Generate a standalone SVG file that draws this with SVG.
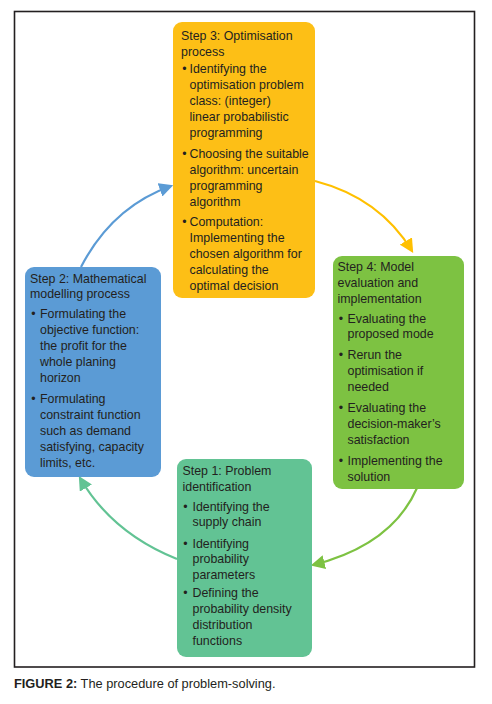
<svg xmlns="http://www.w3.org/2000/svg" width="492" height="704" viewBox="0 0 492 704">
<defs>
<style>
text{font-family:"Liberation Sans",Arial,sans-serif;font-size:12.4px;fill:#231f20}
.cap{font-size:12.8px}
.b{font-weight:bold}
.conn{fill:none;stroke-width:2.2}
</style>
<marker id="mBlue" viewBox="0 0 12 12" refX="10" refY="6" markerWidth="14" markerHeight="14" markerUnits="userSpaceOnUse" orient="auto"><path d="M0,0 L12,6 L0,12 Z" fill="#5b9bd5"/></marker>
<marker id="mOrange" viewBox="0 0 12 12" refX="10" refY="6" markerWidth="14" markerHeight="14" markerUnits="userSpaceOnUse" orient="auto"><path d="M0,0 L12,6 L0,12 Z" fill="#ffc000"/></marker>
<marker id="mGreen" viewBox="0 0 12 12" refX="10" refY="6" markerWidth="14" markerHeight="14" markerUnits="userSpaceOnUse" orient="auto"><path d="M0,0 L12,6 L0,12 Z" fill="#7dc242"/></marker>
<marker id="mTeal" viewBox="0 0 12 12" refX="10" refY="6" markerWidth="14" markerHeight="14" markerUnits="userSpaceOnUse" orient="auto"><path d="M0,0 L12,6 L0,12 Z" fill="#62c394"/></marker>
</defs>
<rect x="0" y="0" width="492" height="704" fill="#ffffff"/>
<rect id="frame" x="14.5" y="11.5" width="460" height="655.5" fill="none" stroke="#231f20" stroke-width="1.6"/>

<g id="connectors">
<path class="conn" stroke="#5b9bd5" d="M81,267 Q112,207 171,186" marker-end="url(#mBlue)"/>
<path class="conn" stroke="#ffc000" d="M315,181 Q380,198 412,251" marker-end="url(#mOrange)"/>
<path class="conn" stroke="#7dc242" d="M417,488 Q392,545 313,565" marker-end="url(#mGreen)"/>
<path class="conn" stroke="#62c394" d="M177,559 Q112,533 80,478" marker-end="url(#mTeal)"/>
</g>

<g id="step3">
<rect x="173" y="22" width="142" height="276" rx="9" fill="#fdbf16"/>
<text x="181" y="40">Step 3: Optimisation</text>
<text x="181" y="55.5">process</text>
<text x="184.5" y="72.5" text-anchor="middle">•</text>
<text x="189.5" y="72.5">Identifying the</text>
<text x="189.5" y="89">optimisation problem</text>
<text x="189.5" y="105">class: (integer)</text>
<text x="189.5" y="121">linear probabilistic</text>
<text x="189.5" y="137">programming</text>
<text x="184.5" y="157.5" text-anchor="middle">•</text>
<text x="189.5" y="157.5">Choosing the suitable</text>
<text x="189.5" y="174">algorithm: uncertain</text>
<text x="189.5" y="190">programming</text>
<text x="189.5" y="205.5">algorithm</text>
<text x="184.5" y="226" text-anchor="middle">•</text>
<text x="189.5" y="226">Computation:</text>
<text x="189.5" y="242">Implementing the</text>
<text x="189.5" y="258">chosen algorithm for</text>
<text x="189.5" y="274">calculating the</text>
<text x="189.5" y="290">optimal decision</text>
</g>

<g id="step4">
<rect x="333" y="256" width="131" height="233" rx="9" fill="#7dc242"/>
<text x="337.5" y="271">Step 4: Model</text>
<text x="337.5" y="287">evaluation and</text>
<text x="337.5" y="302.5">implementation</text>
<text x="341" y="322.5" text-anchor="middle">•</text>
<text x="347.5" y="322.5">Evaluating the</text>
<text x="347.5" y="338">proposed mode</text>
<text x="341" y="359" text-anchor="middle">•</text>
<text x="347.5" y="359">Rerun the</text>
<text x="347.5" y="375">optimisation if</text>
<text x="347.5" y="391">needed</text>
<text x="341" y="412" text-anchor="middle">•</text>
<text x="347.5" y="412">Evaluating the</text>
<text x="347.5" y="427.5">decision-maker’s</text>
<text x="347.5" y="443.5">satisfaction</text>
<text x="341" y="465" text-anchor="middle">•</text>
<text x="347.5" y="465">Implementing the</text>
<text x="347.5" y="481">solution</text>
</g>

<g id="step2">
<rect x="25" y="267" width="136" height="210" rx="9" fill="#5b9bd5"/>
<text x="30" y="282.5">Step 2: Mathematical</text>
<text x="30" y="298">modelling process</text>
<text x="33.5" y="317.5" text-anchor="middle">•</text>
<text x="40" y="317.5">Formulating the</text>
<text x="40" y="334">objective function:</text>
<text x="40" y="350">the profit for the</text>
<text x="40" y="366">whole planing</text>
<text x="40" y="382">horizon</text>
<text x="33.5" y="402.5" text-anchor="middle">•</text>
<text x="40" y="402.5">Formulating</text>
<text x="40" y="419">constraint function</text>
<text x="40" y="435">such as demand</text>
<text x="40" y="451">satisfying, capacity</text>
<text x="40" y="467">limits, etc.</text>
</g>

<g id="step1">
<rect x="177" y="459" width="135" height="198" rx="9" fill="#62c394"/>
<text x="182.5" y="475">Step 1: Problem</text>
<text x="182.5" y="491">identification</text>
<text x="185.5" y="511" text-anchor="middle">•</text>
<text x="192.5" y="511">Identifying the</text>
<text x="192.5" y="526">supply chain</text>
<text x="185.5" y="547.5" text-anchor="middle">•</text>
<text x="192.5" y="547.5">Identifying</text>
<text x="192.5" y="563">probability</text>
<text x="192.5" y="579">parameters</text>
<text x="185.5" y="596.5" text-anchor="middle">•</text>
<text x="192.5" y="596.5">Defining the</text>
<text x="192.5" y="613">probability density</text>
<text x="192.5" y="629">distribution</text>
<text x="192.5" y="645">functions</text>
</g>

<text class="cap" x="14" y="688"><tspan class="b">FIGURE 2:</tspan> The procedure of problem-solving.</text>
</svg>
